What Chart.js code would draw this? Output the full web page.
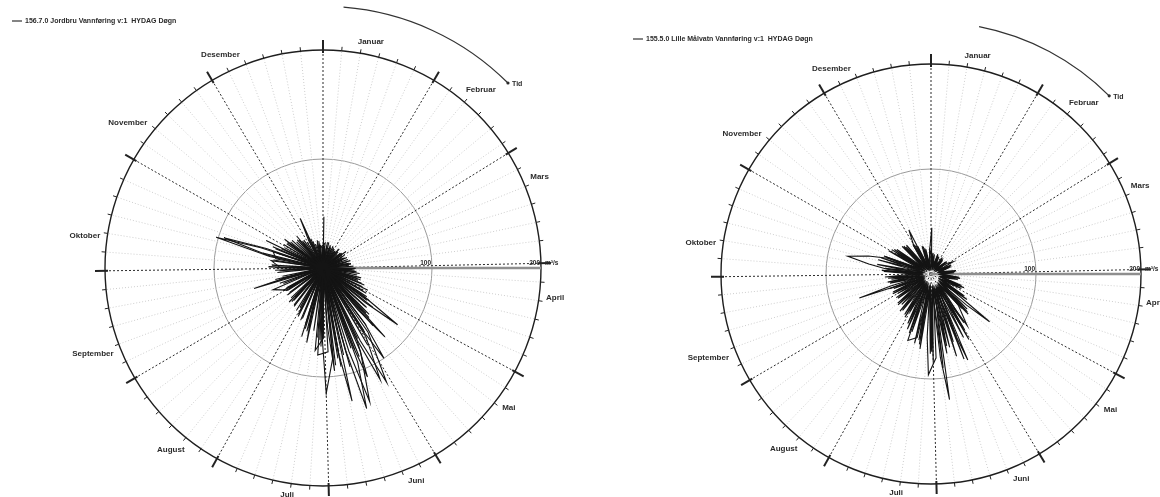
<!DOCTYPE html>
<html>
<head>
<meta charset="utf-8">
<script src="https://cdn.jsdelivr.net/npm/chart.js@4.4.1/dist/chart.umd.min.js"></script>
<style>
  body { margin: 0; background: #fff; }
  .wrap { position: absolute; top: 0; width: 580px; height: 497px; }
  #leftWrap { left: 0; }
  #rightWrap { left: 580px; }
</style>
</head>
<body>
<div class="wrap" id="leftWrap"><canvas id="jordbruChart"></canvas></div>
<div class="wrap" id="rightWrap"><canvas id="malvatnChart"></canvas></div>
<script>
// months around the year, day index 0..364
const monthNames = ['Januar', 'Februar', 'Mars', 'April', 'Mai', 'Juni', 'Juli', 'August', 'September', 'Oktober', 'November', 'Desember'];
const monthStarts = [0, 31, 59, 90, 120, 151, 181, 212, 243, 273, 304, 334];
const radialTicks = [0, 100, 200];

// [day of year, m3/s] (156.7.0 Jordbru)
const jordbruYear1 = [[1,22],[7,2],[13,24],[20,1],[28,21],[36,2],[44,20],[52,1],[60,23],[68,2],[76,26],[84,2],[92,30],[99,3],[106,36],[112,3],[118,46],[124,3],[130,58],[135,4],[141,70],[146,4],[152,82],[157,5],[162,92],[165,135],[167,78],[169,5],[173,84],[178,4],[184,72],[190,3],[197,60],[204,3],[211,48],[218,2],[226,42],[234,2],[242,40],[250,2],[258,42],[266,3],[274,44],[281,2],[286,50],[290,102],[292,60],[294,3],[299,42],[306,2],[313,38],[320,2],[327,30],[334,2],[341,24],[348,1],[355,20],[361,1]];
const jordbruYear2 = [[0,2],[1,47],[3,2],[10,21],[17,1],[25,22],[33,2],[41,23],[49,1],[56,21],[64,2],[72,24],[80,2],[88,28],[96,3],[103,32],[110,2],[117,40],[123,3],[128,50],[133,3],[139,62],[144,4],[150,74],[155,115],[157,70],[159,5],[163,78],[169,4],[175,90],[180,4],[187,64],[193,3],[200,54],[207,3],[215,46],[222,2],[230,40],[238,2],[245,38],[251,2],[257,66],[259,35],[261,2],[268,42],[276,3],[283,46],[289,2],[296,47],[303,2],[310,40],[317,1],[324,34],[331,2],[338,28],[345,1],[352,24],[359,2]];
const jordbruYear3 = [[4,20],[11,2],[18,22],[26,1],[34,18],[42,2],[50,21],[58,2],[66,22],[74,2],[82,26],[90,3],[97,30],[104,3],[111,34],[119,3],[126,42],[129,86],[131,50],[133,4],[138,57],[143,4],[149,68],[154,5],[160,88],[166,5],[172,80],[177,4],[183,68],[189,4],[195,70],[197,40],[199,3],[205,50],[213,3],[220,44],[228,2],[236,41],[244,2],[252,39],[261,2],[270,40],[278,3],[285,44],[292,48],[300,2],[308,40],[315,2],[322,35],[330,1],[337,28],[340,50],[342,2],[350,22],[357,1],[363,19]];
const jordbruYear4 = [[2,17],[9,1],[16,19],[23,2],[31,20],[39,1],[47,18],[54,2],[62,20],[70,2],[78,22],[86,2],[94,27],[101,3],[108,33],[115,3],[121,42],[127,3],[134,52],[140,4],[145,64],[148,100],[150,62],[152,5],[156,72],[161,5],[167,94],[171,5],[176,82],[181,115],[183,66],[185,4],[191,58],[198,3],[206,52],[214,3],[221,43],[229,2],[237,38],[246,2],[254,42],[263,2],[271,44],[279,3],[287,52],[291,95],[293,55],[295,3],[302,40],[309,2],[316,38],[323,1],[330,31],[337,2],[344,26],[351,1],[358,21]];
const jordbruYear5 = [[5,23],[12,1],[19,21],[27,2],[35,19],[43,1],[51,21],[59,2],[67,24],[75,2],[83,26],[91,3],[98,31],[105,3],[113,38],[120,3],[125,48],[131,4],[137,60],[142,4],[147,72],[153,120],[155,75],[157,5],[161,80],[166,5],[170,125],[172,80],[174,5],[179,77],[186,80],[189,4],[196,57],[203,3],[210,50],[217,3],[225,40],[233,2],[241,38],[250,50],[253,2],[262,38],[269,2],[277,47],[284,3],[292,44],[298,2],[305,42],[312,2],[319,34],[326,1],[333,28],[340,1],[347,23],[354,2],[362,20]];
const jordbruYear6 = [[3,2],[10,24],[17,1],[24,19],[32,2],[40,22],[48,1],[55,26],[57,2],[65,21],[73,2],[81,24],[89,3],[95,29],[102,3],[109,36],[116,3],[122,46],[128,4],[134,54],[139,4],[145,66],[151,5],[157,74],[160,108],[162,66],[164,5],[169,82],[173,5],[176,95],[178,55],[180,4],[185,66],[192,4],[199,58],[206,3],[213,42],[220,3],[228,44],[236,2],[244,42],[252,2],[260,45],[268,2],[275,50],[282,3],[288,57],[295,2],[300,58],[303,2],[311,44],[318,1],[325,38],[332,2],[339,32],[346,1],[353,26],[360,2]];
const jordbruYear7 = [[6,18],[14,2],[21,20],[29,1],[37,19],[45,2],[53,22],[61,1],[69,19],[77,2],[85,24],[93,2],[100,34],[107,3],[114,41],[121,3],[127,52],[133,3],[140,85],[142,50],[144,4],[149,70],[154,4],[158,84],[163,130],[165,80],[167,5],[172,92],[177,4],[182,64],[188,76],[194,4],[200,66],[203,3],[211,44],[219,3],[227,37],[235,2],[243,36],[251,2],[259,40],[267,2],[274,39],[282,48],[289,2],[297,50],[304,2],[311,36],[319,1],[327,31],[335,1],[342,29],[349,2],[356,25],[364,1]];

// [day of year, m3/s] (155.5.0 Lille Målvatn)
const malvatnYear1 = [[1,44],[3,8],[10,19],[17,6],[25,18],[33,7],[41,17],[49,6],[57,18],[62,24],[65,7],[72,17],[80,8],[88,22],[96,9],[103,26],[110,10],[117,32],[124,11],[131,72],[133,45],[135,12],[140,44],[146,13],[152,57],[158,14],[164,68],[170,15],[174,121],[176,80],[178,14],[182,72],[188,13],[195,62],[202,67],[205,12],[212,42],[219,11],[227,40],[235,10],[243,37],[250,9],[255,72],[257,40],[259,9],[266,38],[274,10],[281,44],[288,9],[295,46],[298,9],[305,38],[312,8],[319,36],[326,7],[333,31],[338,47],[341,7],[348,24],[355,6],[361,21]];
const malvatnYear2 = [[0,7],[6,20],[13,6],[21,19],[29,7],[37,18],[45,6],[53,19],[61,7],[69,20],[77,8],[85,23],[93,9],[100,28],[107,10],[114,34],[121,11],[127,42],[133,12],[139,52],[145,13],[151,62],[156,14],[159,89],[161,55],[163,15],[168,72],[173,14],[179,80],[184,96],[186,60],[188,13],[193,64],[199,12],[206,57],[213,11],[221,44],[229,10],[237,39],[245,9],[252,38],[260,9],[268,41],[276,10],[280,42],[283,60],[286,81],[290,62],[294,44],[301,9],[308,42],[315,8],[322,35],[330,7],[337,30],[344,6],[351,25],[358,6]];
const malvatnYear3 = [[4,19],[11,6],[19,20],[27,7],[35,19],[43,6],[51,18],[59,7],[67,21],[75,8],[83,24],[91,9],[98,27],[105,10],[112,31],[119,11],[125,38],[130,12],[136,48],[142,13],[148,56],[154,14],[160,64],[166,15],[171,77],[176,14],[181,84],[185,13],[191,72],[197,12],[203,60],[209,11],[216,46],[224,10],[232,42],[240,9],[248,40],[255,9],[263,42],[271,10],[278,47],[285,9],[292,50],[299,9],[306,44],[313,8],[320,37],[328,7],[335,32],[342,7],[349,27],[356,6],[363,22]];
const malvatnYear4 = [[2,7],[9,17],[16,6],[23,16],[31,7],[39,15],[47,6],[55,15],[62,7],[70,16],[78,8],[86,20],[94,9],[101,22],[108,10],[115,27],[122,11],[128,32],[135,12],[141,40],[147,60],[150,13],[155,68],[161,14],[165,82],[169,15],[175,90],[178,14],[183,76],[189,13],[196,68],[201,12],[208,52],[215,11],[223,46],[231,10],[239,40],[247,9],[254,42],[262,9],[270,44],[277,10],[284,52],[288,9],[295,48],[302,9],[310,40],[317,8],[324,36],[332,7],[339,29],[346,6],[353,24],[360,6]];
const malvatnYear5 = [[5,16],[12,6],[20,15],[28,7],[36,16],[44,6],[52,15],[60,7],[68,15],[76,8],[84,21],[92,9],[99,26],[106,10],[113,28],[120,11],[126,37],[132,12],[138,50],[143,13],[152,72],[155,14],[161,87],[164,15],[170,70],[176,14],[182,74],[186,13],[192,68],[195,12],[201,58],[207,11],[214,48],[222,10],[230,43],[238,9],[246,41],[253,9],[261,40],[269,9],[277,45],[283,9],[289,52],[296,9],[303,46],[311,8],[318,38],[325,7],[333,33],[340,7],[347,28],[354,6],[362,23]];

const dayLabels = Array.from({ length: 365 }, (_, i) => String(i + 1));

function toDaily(pairs) {
  const arr = new Array(365).fill(null);
  pairs.forEach(([d, v]) => { arr[d] = v; });
  return arr;
}

function monthOf(i) {
  let m = 0;
  while (m < 11 && monthStarts[m + 1] <= i) m++;
  return m;
}

function spokeColor(i) {
  const rel = i - monthStarts[monthOf(i)];
  if (rel === 0) return '#2a2a2a';
  if (rel % 5 === 0 && rel <= 25) return '#cdcdcd';
  return null;
}

const FONT = '"Liberation Sans", Arial, sans-serif';

// decorations: axis line, rim ticks, month names, unit labels, legend, Tid arrow
const polarDecor = {
  id: 'polarDecor',
  beforeDatasetsDraw(chart) {
    const s = chart.scales.r;
    const ctx = chart.ctx;
    ctx.save();
    ctx.strokeStyle = '#8e8e8e';
    ctx.lineWidth = 2.5;
    ctx.beginPath();
    ctx.moveTo(s.xCenter, s.yCenter);
    ctx.lineTo(s.xCenter + s.getDistanceFromCenterForValue(200), s.yCenter);
    ctx.stroke();
    ctx.restore();
  },
  afterDraw(chart, args, opts) {
    const s = chart.scales.r;
    const ctx = chart.ctx;
    const R = s.getDistanceFromCenterForValue(200);
    const xc = s.xCenter, yc = s.yCenter;
    ctx.save();

    // ticks on the rim
    ctx.strokeStyle = '#222';
    for (let i = 0; i < 365; i++) {
      const rel = i - monthStarts[monthOf(i)];
      let r0, r1;
      if (rel === 0) { r0 = R - 3; r1 = R + 10; ctx.lineWidth = 2; }
      else if (rel % 5 === 0 && rel <= 25) { r0 = R; r1 = R + 4; ctx.lineWidth = 1; }
      else continue;
      const a = s.getPointPosition(i, r0);
      const b = s.getPointPosition(i, r1);
      ctx.beginPath();
      ctx.moveTo(a.x, a.y);
      ctx.lineTo(b.x, b.y);
      ctx.stroke();
    }

    // month names
    ctx.fillStyle = '#2b2b2b';
    ctx.font = 'bold 8px ' + FONT;
    monthNames.forEach((name, m) => {
      const idx = monthStarts[m] + 9;
      const p = s.getPointPosition(idx, R + 7);
      const ang = s.getIndexAngle(idx);
      const sin = Math.sin(ang), cos = Math.cos(ang);
      ctx.textAlign = sin > 0.05 ? 'left' : (sin < -0.05 ? 'right' : 'center');
      ctx.textBaseline = cos > 0.3 ? 'bottom' : (cos < -0.3 ? 'top' : 'middle');
      ctx.fillText(name, p.x, p.y);
    });

    // radial value labels along the east axis
    ctx.font = 'bold 6.5px ' + FONT;
    ctx.textBaseline = 'bottom';
    ctx.textAlign = 'right';
    ctx.fillText('100', xc + s.getDistanceFromCenterForValue(100) - 1, yc - 2);
    ctx.fillText('200', xc + R - 1, yc - 2);
    ctx.textAlign = 'left';
    ctx.fillText('m³/s', xc + R + 4, yc - 2);

    // legend
    ctx.strokeStyle = '#333';
    ctx.lineWidth = 1.2;
    ctx.beginPath();
    ctx.moveTo(opts.legendX, opts.legendY);
    ctx.lineTo(opts.legendX + 10, opts.legendY);
    ctx.stroke();
    ctx.font = 'bold 7px ' + FONT;
    ctx.textBaseline = 'middle';
    ctx.fillText(opts.legendText, opts.legendX + 13, opts.legendY);

    // Tid arrow outside the rim
    const rt = R * 1.2;
    const a0 = opts.tidFrom * Math.PI / 180 - Math.PI / 2;
    const a1 = opts.tidTo * Math.PI / 180 - Math.PI / 2;
    ctx.strokeStyle = '#333';
    ctx.lineWidth = 1.2;
    ctx.beginPath();
    ctx.arc(xc, yc, rt, a0, a1);
    ctx.stroke();
    const ex = xc + rt * Math.cos(a1), ey = yc + rt * Math.sin(a1);
    ctx.beginPath();
    ctx.arc(ex, ey, 1.6, 0, Math.PI * 2);
    ctx.fill();
    ctx.textAlign = 'left';
    ctx.fillText('Tid', ex + 4, ey + 1);

    ctx.restore();
  }
};

function makeChart(id, series, padding, decor) {
  const datasets = series.map((pairs, k) => ({
    label: k === 0 ? decor.legendText : '',
    data: toDaily(pairs),
    borderColor: '#141414',
    borderWidth: 1.1,
    pointRadius: 0,
    pointHoverRadius: 0,
    fill: false,
    spanGaps: true,
    tension: 0
  }));
  return new Chart(document.getElementById(id), {
    type: 'radar',
    data: { labels: dayLabels, datasets: datasets },
    options: {
      responsive: true,
      maintainAspectRatio: false,
      animation: false,
      layout: { padding: padding },
      plugins: { legend: { display: false }, tooltip: { enabled: false }, polarDecor: decor },
      scales: {
        r: {
          min: radialTicks[0],
          max: radialTicks[radialTicks.length - 1],
          ticks: { display: false, stepSize: radialTicks[1] - radialTicks[0] },
          pointLabels: { display: false },
          grid: {
            circular: true,
            color: c => c.tick.value === 200 ? '#1e1e1e' : '#9a9a9a',
            lineWidth: c => c.tick.value === 200 ? 1.4 : 1
          },
          angleLines: {
            display: true,
            color: c => spokeColor(c.index),
            lineWidth: 1,
            borderDash: c => spokeColor(c.index) === '#2a2a2a' ? [2, 2] : [1, 2]
          }
        }
      }
    },
    plugins: [polarDecor]
  });
}

makeChart('jordbruChart',
  [jordbruYear1, jordbruYear2, jordbruYear3, jordbruYear4, jordbruYear5, jordbruYear6, jordbruYear7],
  { left: 105, right: 39, top: 50, bottom: 11 },
  { legendText: '156.7.0 Jordbru Vannføring v:1  HYDAG Døgn', legendX: 12, legendY: 21, tidFrom: 4.5, tidTo: 45 });

makeChart('malvatnChart',
  [malvatnYear1, malvatnYear2, malvatnYear3, malvatnYear4, malvatnYear5],
  { left: 141, right: 19, top: 64, bottom: 13 },
  { legendText: '155.5.0 Lille Målvatn Vannføring v:1  HYDAG Døgn', legendX: 53, legendY: 39, tidFrom: 11, tidTo: 45 });
</script>
</body>
</html>
